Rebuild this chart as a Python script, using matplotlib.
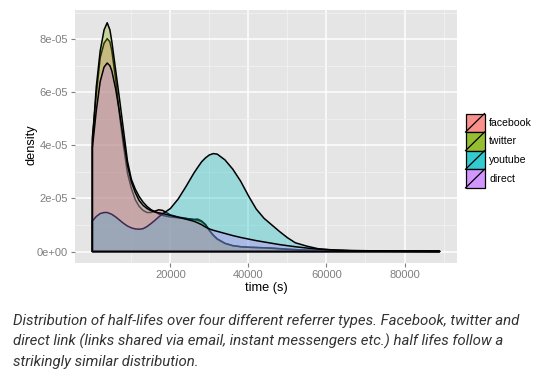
import numpy as np
import matplotlib
matplotlib.use('Agg')
import matplotlib.pyplot as plt
from matplotlib.colors import to_rgba
from matplotlib.patches import Rectangle

# data (density in units of 1e-05)
time_s = [0, 1000, 2000, 3000, 3800, 4500, 5000, 6000, 7000, 8000, 9000, 10000,
          11000, 12000, 13000, 14000, 15000, 16000, 17000, 18000, 20000, 22000,
          24000, 26000, 27000, 28000, 29000, 30000, 31000, 32000, 34000, 36000,
          38000, 40000, 42000, 44000, 46000, 48000, 50000, 52000, 55000, 58000,
          62000, 66000, 70000, 75000, 80000, 85000, 89000]

facebook = [4.3, 5.9, 7.3, 7.85, 8.02, 7.9, 7.55, 6.45, 5.1, 3.95, 2.95, 2.38,
            1.95, 1.7, 1.55, 1.47, 1.47, 1.52, 1.57, 1.55, 1.38, 1.3,
            1.25, 1.2, 1.17, 1.12, 1.0, 0.78, 0.6, 0.46, 0.3, 0.22,
            0.18, 0.16, 0.15, 0.14, 0.13, 0.11, 0.09, 0.07, 0.05, 0.04,
            0.03, 0.025, 0.02, 0.015, 0.01, 0.008, 0.005]

twitter = [4.1, 6.2, 7.55, 8.35, 8.62, 8.35, 7.9, 6.8, 5.7, 4.55, 3.4, 2.72,
           2.35, 2.07, 1.86, 1.7, 1.58, 1.5, 1.42, 1.36, 1.3, 1.27,
           1.24, 1.21, 1.22, 1.15, 1.02, 0.8, 0.62, 0.48, 0.31, 0.22,
           0.18, 0.16, 0.15, 0.14, 0.12, 0.1, 0.08, 0.07, 0.05, 0.04,
           0.03, 0.02, 0.02, 0.015, 0.01, 0.008, 0.005]

youtube = [1.15, 1.32, 1.43, 1.47, 1.47, 1.43, 1.4, 1.3, 1.18, 1.06, 0.96, 0.89,
           0.85, 0.84, 0.86, 0.94, 1.05, 1.17, 1.3, 1.42, 1.62, 1.98,
           2.45, 2.95, 3.17, 3.38, 3.53, 3.64, 3.69, 3.67, 3.45, 3.1,
           2.65, 2.1, 1.6, 1.25, 1.0, 0.75, 0.52, 0.33, 0.2, 0.1,
           0.05, 0.03, 0.02, 0.01, 0.005, 0.003, 0.002]

direct = [3.9, 5.3, 6.4, 6.95, 7.1, 7.0, 6.8, 6.1, 5.2, 4.2, 3.25, 2.62,
          2.22, 1.92, 1.74, 1.62, 1.54, 1.49, 1.46, 1.43, 1.36, 1.29,
          1.22, 1.14, 1.08, 1.01, 0.92, 0.85, 0.8, 0.76, 0.68, 0.6,
          0.53, 0.47, 0.41, 0.36, 0.31, 0.26, 0.22, 0.18, 0.13, 0.09,
          0.06, 0.04, 0.03, 0.02, 0.015, 0.01, 0.01]

groups = ['facebook', 'twitter', 'youtube', 'direct']
series = [facebook, twitter, youtube, direct]
colors = ['#F8766D', '#7CAE00', '#00BFC4', '#C77CFF']

x_ticks = [20000, 40000, 60000, 80000]
x_minor = [10000, 30000, 50000, 70000, 90000]
y_ticks = [0, 2e-05, 4e-05, 6e-05, 8e-05]
y_labels = ['0e+00', '2e-05', '4e-05', '6e-05', '8e-05']
y_minor = [1e-05, 3e-05, 5e-05, 7e-05, 9e-05]

caption = ["Distribution of half-lifes over four different referrer types. Facebook, twitter and",
           "direct link (links shared via email, instant messengers etc.) half lifes follow a",
           "strikingly similar distribution."]

W, H = 545, 378
fig = plt.figure(figsize=(W / 100, H / 100), dpi=100)
fig.patch.set_facecolor('white')

# panel in pixels: left 75, right 457, top 10, bottom 263
ax = fig.add_axes([75 / W, 1 - 263 / H, (457 - 75) / W, (263 - 10) / H])
ax.set_facecolor('#E5E5E5')

xs = np.array(time_s, dtype=float)
for vals, c in zip(series, colors):
    ys = np.array(vals) * 1e-05
    px = np.concatenate([[xs[0]], xs, [xs[-1]]])
    py = np.concatenate([[0], ys, [0]])
    ax.fill(px, py, facecolor=to_rgba(c, 0.32), edgecolor='black',
            linewidth=1.1, zorder=3, joinstyle='round')

ax.set_xlim(-4450, 93450)
ax.set_ylim(-4.33e-06, 9.1e-05)

ax.set_xticks(x_ticks)
ax.set_xticks(x_minor, minor=True)
ax.set_yticks(y_ticks)
ax.set_yticklabels(y_labels)
ax.set_yticks(y_minor, minor=True)
ax.grid(which='major', color='white', linewidth=1.1, zorder=1)
ax.grid(which='minor', color='#F2F2F2', linewidth=0.6, zorder=1)
ax.set_axisbelow(True)
for s in ax.spines.values():
    s.set_visible(False)
ax.tick_params(which='major', direction='out', length=3.2, width=0.8,
               color='#7F7F7F', labelcolor='#7F7F7F', labelsize=8, pad=2)
ax.tick_params(which='minor', length=0)
for lab in ax.get_xticklabels() + ax.get_yticklabels():
    lab.set_family(['Liberation Sans', 'DejaVu Sans'])

# axis titles
fig.text(31 / W, 1 - 145 / H, 'density', rotation=90, ha='center', va='center',
         fontsize=9.2, family=['Liberation Sans', 'DejaVu Sans'])
fig.text(266 / W, 1 - 288.5 / H, 'time (s)', ha='center', va='center',
         fontsize=9.2, family=['Liberation Sans', 'DejaVu Sans'])

# legend (drawn by hand, ggplot style keys with diagonal)
lax = fig.add_axes([0, 0, 1, 1])
lax.set_xlim(0, W)
lax.set_ylim(H, 0)
lax.axis('off')
key_x, key_y, key_w, key_h = 465.5, 113.5, 19, 18.6
for i, (g, c) in enumerate(zip(groups, colors)):
    y0 = key_y + i * key_h
    lax.add_patch(Rectangle((key_x, y0), key_w, key_h,
                            facecolor=to_rgba(c, 0.8), edgecolor='black', linewidth=0.9))
    lax.plot([key_x, key_x + key_w], [y0 + key_h, y0], color='black', linewidth=0.9)
    lax.text(key_x + key_w + 4.5, y0 + key_h / 2, g, ha='left', va='center',
             fontsize=7.6, family=['Liberation Sans', 'DejaVu Sans'])

# caption
for i, line in enumerate(caption):
    fig.text(13 / W, 1 - (321 + i * 20.5) / H, line, ha='left', va='center',
             fontsize=10.8, style='italic', color='#333333',
             family=['Roboto', 'DejaVu Sans'])

fig.savefig('out.png', dpi=100)
